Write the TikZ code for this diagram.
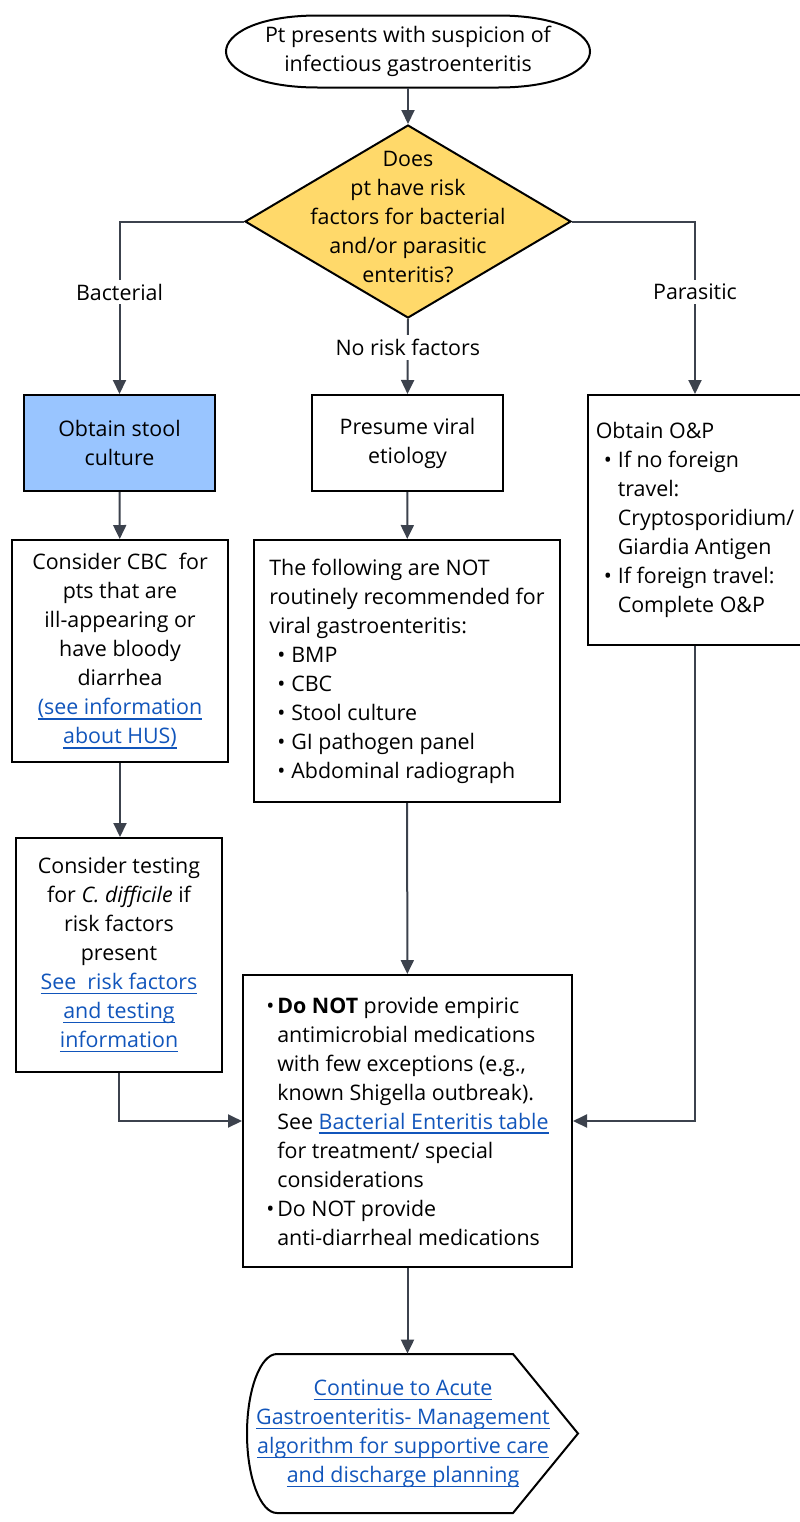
\documentclass[tikz,border=0pt]{standalone}
\usepackage{fontspec}
\setmainfont{Open Sans}
\usetikzlibrary{shapes.geometric,arrows.meta}

\definecolor{decyellow}{RGB}{255,217,106}
\definecolor{stoolblue}{RGB}{153,197,255}
\definecolor{wire}{RGB}{60,66,77}
\definecolor{linkblue}{RGB}{17,85,187}
\newcommand{\lnk}[1]{\textcolor{linkblue}{\setbox0\hbox{#1}\rlap{\rule[-2.3pt]{\wd0}{0.7pt}}\box0}}
\newcommand{\itm}[1][7pt]{\makebox[#1][l]{\textbullet}}

\tikzset{
	box/.style={draw=black, line width=1pt, align=center, inner sep=0pt},
	flow/.style={draw=wire, line width=1pt, -{Triangle[length=7pt,width=6.5pt]}},
	lbl/.style={fill=white, inner sep=2pt},
}

\begin{document}
\begin{tikzpicture}[x=0.5pt,y=-0.5pt,font=\fontsize{10.7}{14.5}\selectfont]
		\useasboundingbox (0,0) rectangle (799,1522);

	    \node (start) [align=center, inner sep=0pt, minimum width=181.5pt, minimum height=36pt] at (408,51.5)
	        {Pt presents with suspicion of\\infectious gastroenteritis};
	    \draw[line width=1pt, shift={(start.center)}]
	        (-182,0) .. controls (-182,-17) and (-152,-36) .. (-90,-36) -- (90,-36)
	        .. controls (152,-36) and (182,-17) .. (182,0)
	        .. controls (182,17) and (152,36) .. (90,36) -- (-90,36)
	        .. controls (-152,36) and (-182,17) .. (-182,0) -- cycle;
	    \node (risk) [box, diamond, fill=decyellow, minimum width=163pt, minimum height=96.5pt,
	        label={[align=center,yshift=2pt]center:Does\\pt have risk\\factors for bacterial\\and/or parasitic\\enteritis?}] at (408,221.5) {};

	    % three branches
	    \node (stool) [box, fill=stoolblue, minimum width=95.5pt, minimum height=48pt] at (119.5,443)
	        {Obtain stool\\culture};
	    \node (viral) [box, minimum width=95.5pt, minimum height=48pt] at (407.5,443)
	        {Presume viral\\etiology};
	    \node (op) [box, align=left, minimum width=107pt, minimum height=125pt] at (695,520)
	        {Obtain O\&P\\
	         \hspace*{4pt}\itm If no foreign\\
	         \hspace*{11pt}travel:\\
	         \hspace*{11pt}Cryptosporidium/\\
	         \hspace*{11pt}Giardia Antigen\\
	         \hspace*{4pt}\itm If foreign travel:\\
	         \hspace*{11pt}Complete O\&P};

	    \node (cbc) [box, minimum width=108pt, minimum height=111pt] at (120,651)
	        {Consider CBC\ \ for\\pts that are\\ill-appearing or\\have bloody\\diarrhea\\
	         \lnk{(see information}\\\lnk{about HUS)}};
	    \node (cdiff) [box, minimum width=103pt, minimum height=117pt] at (119,955)
	        {Consider testing\\for \textit{C. difficile} if\\risk factors\\present\\
	         \lnk{See\ \ risk factors}\\\lnk{and testing}\\\lnk{information}};
	    \node (notrec) [box, align=left, minimum width=153pt, minimum height=131pt] at (407,671)
	        {The following are NOT\\routinely recommended for\\viral gastroenteritis:\\
	         \hspace*{4pt}\itm BMP\\
	         \hspace*{4pt}\itm CBC\\
	         \hspace*{4pt}\itm Stool culture\\
	         \hspace*{4pt}\itm GI pathogen panel\\
	         \hspace*{4pt}\itm Abdominal radiograph};

	    \node (treat) [box, align=left, minimum width=164.5pt, minimum height=146pt] at (407.5,1121)
	        {\itm[5.5pt]\textbf{Do NOT} provide empiric\\
	         \hspace*{5.5pt}antimicrobial medications\\
	         \hspace*{5.5pt}with few exceptions (e.g.,\\
	         \hspace*{5.5pt}known Shigella outbreak).\\
	         \hspace*{5.5pt}See \lnk{Bacterial Enteritis table}\\
	         \hspace*{5.5pt}for treatment/ special\\
	         \hspace*{5.5pt}considerations\\
	         \itm[5.5pt]Do NOT provide\\
	         \hspace*{5.5pt}anti-diarrheal medications};

	    \node (cont) [align=center, inner sep=0pt, minimum height=79.5pt] at (403,1433.5)
	        {\lnk{Continue to Acute}\\\lnk{Gastroenteritis- Management}\\
	         \lnk{algorithm for supportive care}\\\lnk{and discharge planning}};
	    \draw[line width=1pt, shift={(cont.center)}]
	        (-126,79.5) arc[start angle=90, end angle=270, x radius=30, y radius=79.5]
	        -- (110,-79.5) -- (175,0) -- (110,79.5) -- cycle;

	    \draw[flow] (start) -- (risk);
	    \draw[flow] (risk.west) -| node[lbl, pos=0.705] {Bacterial} (stool.north);
	    \draw[flow] (risk.east) -| node[lbl, pos=0.705] {Parasitic} (op.north);
	    \draw[flow] (risk.south) -- node[lbl, pos=0.377] {No risk factors} (viral.north);
	    \draw[flow] (stool) -- (cbc);
	    \draw[flow] (cbc.south) -- (cbc.south |- cdiff.north);
	    \draw[flow] (viral) -- (notrec);
	    \draw[flow] (notrec) -- (treat);
	    \draw[flow] (cdiff.south) |- (treat.west);
	    \draw[flow] (op.south) |- (treat.east);
	    \draw[flow] (treat.south) -- (treat.south |- cont.north);

	\end{tikzpicture}
\end{document}
